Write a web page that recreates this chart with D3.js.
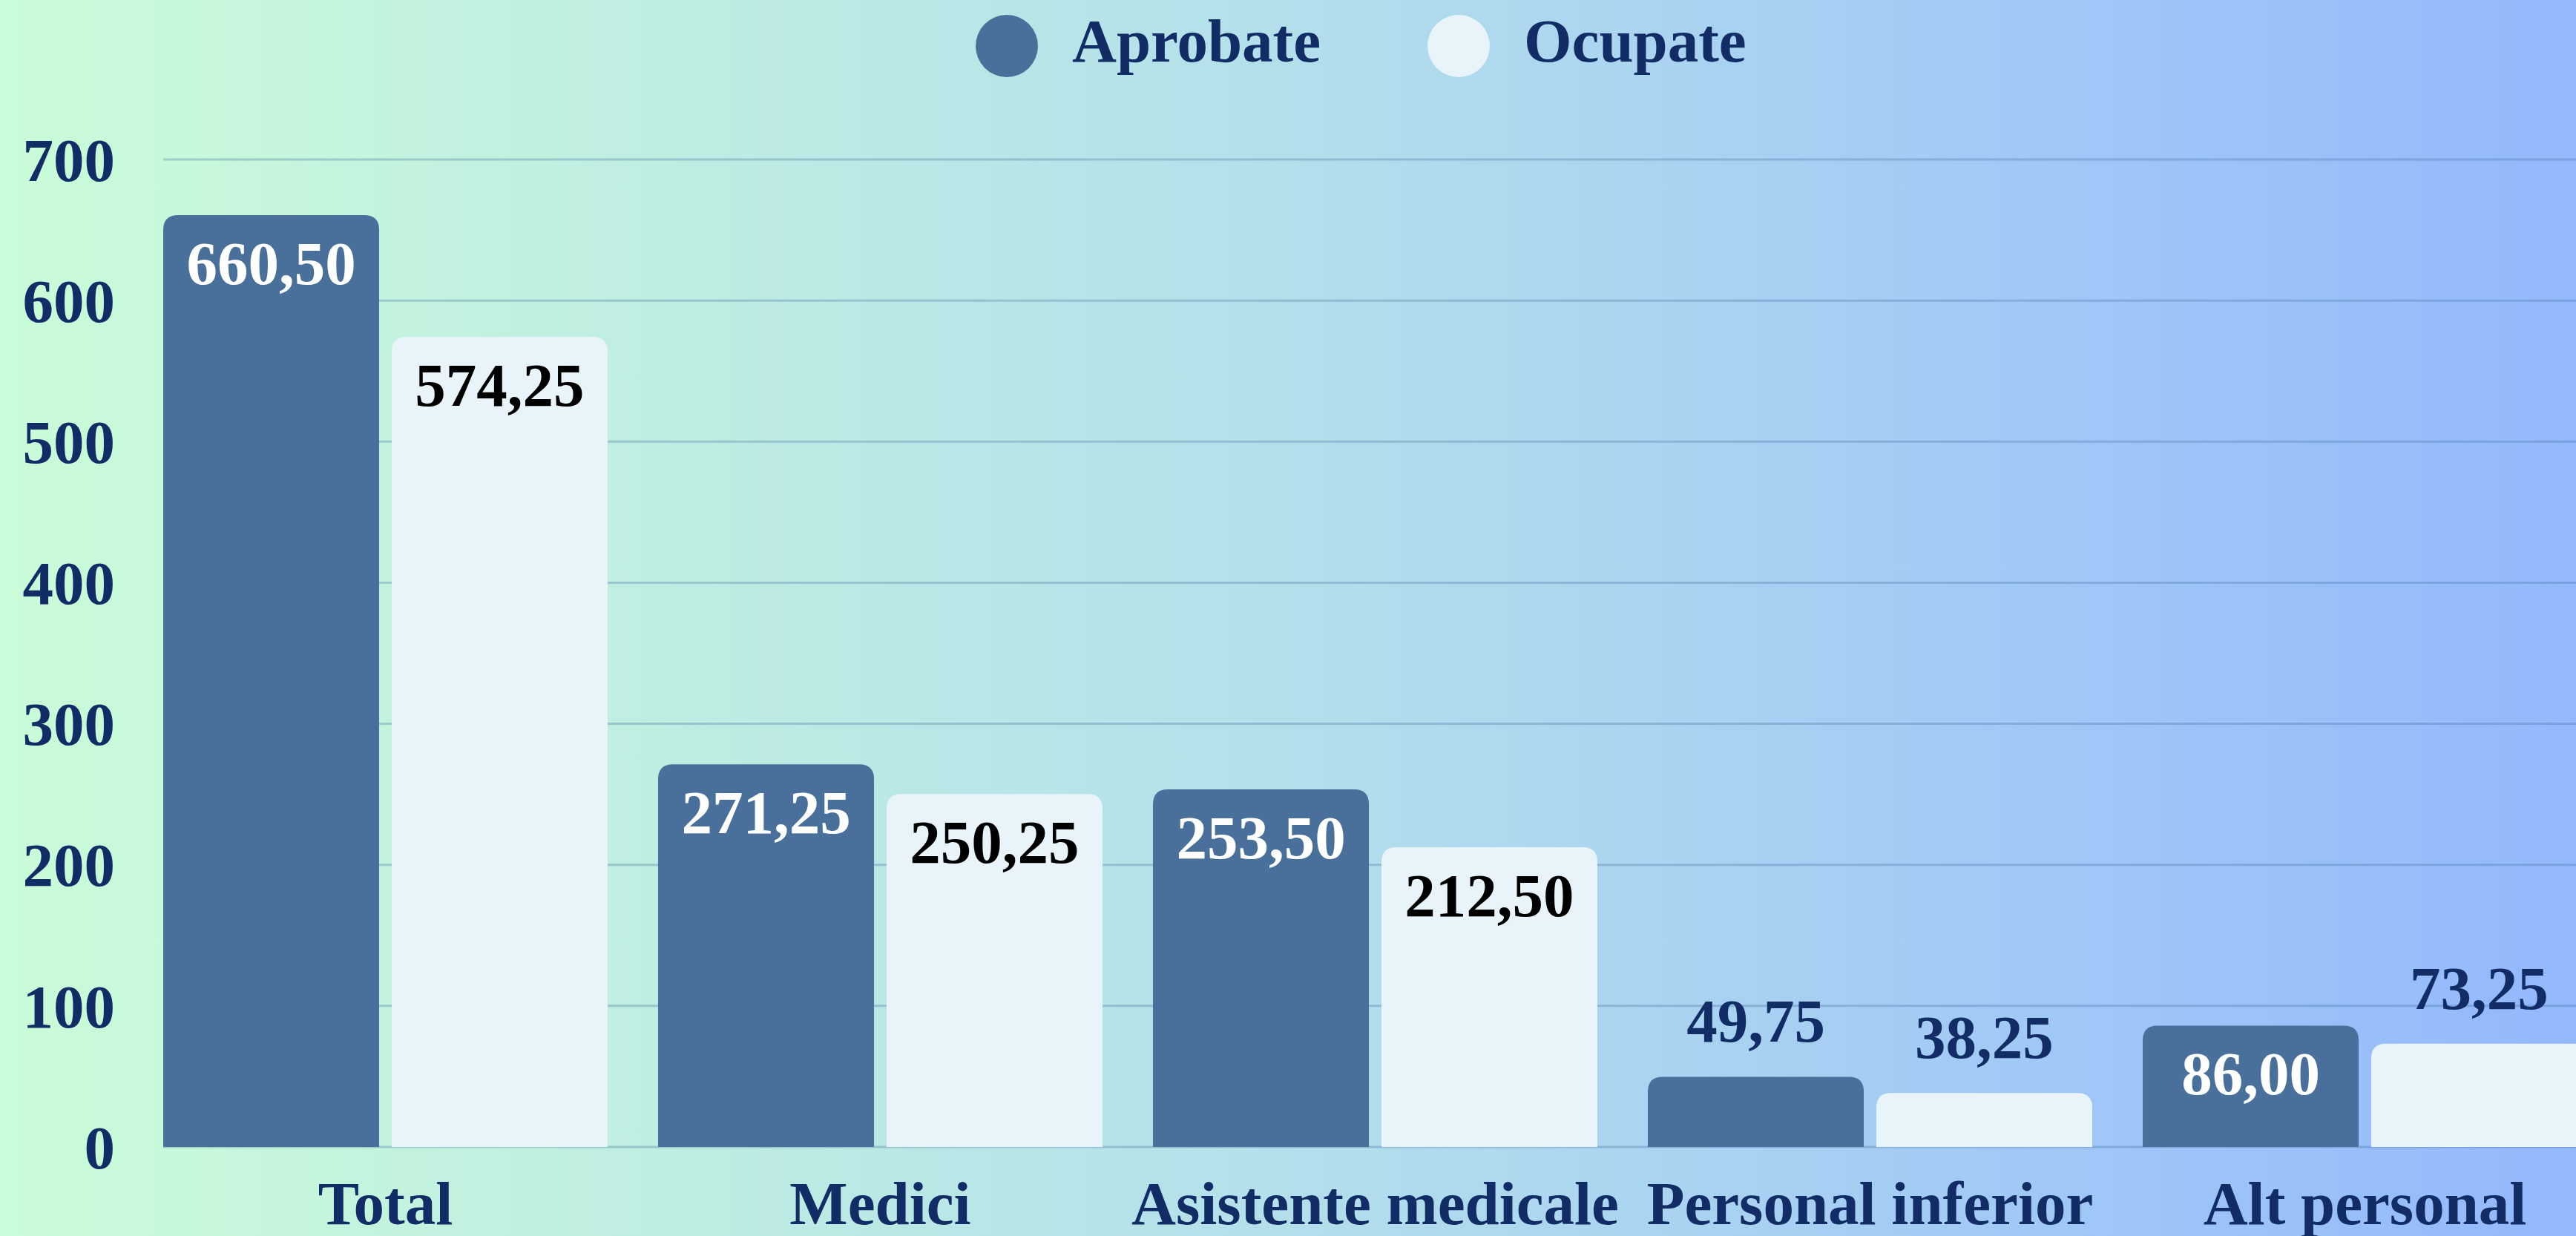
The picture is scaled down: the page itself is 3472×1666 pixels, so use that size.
<!DOCTYPE html>
<html>
<head>
<meta charset="utf-8">
<script src="https://cdn.jsdelivr.net/npm/d3@7"></script>
<style>
  body { margin: 0; overflow: hidden; }
  svg { display: block; }
</style>
</head>
<body>
<svg class="chart" width="3472" height="1666"></svg>
<script>
// Posturi aprobate vs ocupate

var categories = ["Total", "Medici", "Asistente medicale", "Personal inferior", "Alt personal"];
var seriesNames = ["Aprobate", "Ocupate"];
var aprobate = [660.50, 271.25, 253.50, 49.75, 86.00];
var ocupate = [574.25, 250.25, 212.50, 38.25, 73.25];
var yTicks = [0, 100, 200, 300, 400, 500, 600, 700];

var W = 3472, H = 1666;
var navy = "#122D66";
var barColors = ["#48709A", "#E8F3FA"];
var insideText = ["#FFFFFF", "#000000"];
var fontFam = "'Liberation Serif', 'Times New Roman', serif";

var svg = d3.select(".chart");

// fundal
var defs = svg.append("defs");
var grad = defs.append("linearGradient")
    .attr("id", "bg")
    .attr("x1", "0%").attr("y1", "0%")
    .attr("x2", "100%").attr("y2", "0%");
grad.append("stop").attr("offset", "0%").attr("stop-color", "#C9FCD8");
grad.append("stop").attr("offset", "50%").attr("stop-color", "#B3DFEB");
grad.append("stop").attr("offset", "100%").attr("stop-color", "#93B8FD");

svg.append("rect")
    .attr("width", W)
    .attr("height", H)
    .attr("fill", "url(#bg)");

var rows = categories.map(function (c, i) {
    return { cat: c, values: [aprobate[i], ocupate[i]] };
});

var x0 = d3.scaleBand()
    .domain(categories)
    .range([220, 3487])
    .paddingInner(0.102)
    .paddingOuter(0);

var x1 = d3.scaleBand()
    .domain(seriesNames)
    .range([0, x0.bandwidth()])
    .paddingInner(0.055);

var y = d3.scaleLinear()
    .domain([0, 700])
    .range([1546, 215]);

// grila
svg.append("g")
    .selectAll("line")
    .data(yTicks).enter()
    .append("line")
    .attr("x1", 220)
    .attr("x2", W)
    .attr("y1", function (d) { return y(d); })
    .attr("y2", function (d) { return y(d); })
    .attr("stroke", "#3F6E9A")
    .attr("stroke-opacity", 0.3)
    .attr("stroke-width", 3);

// axa Y
var yAxis = svg.append("g")
    .attr("transform", "translate(155,0)")
    .call(d3.axisLeft(y).tickValues(yTicks).tickSize(0).tickPadding(0));
yAxis.select(".domain").remove();
yAxis.selectAll("text")
    .attr("font-family", fontFam)
    .attr("font-weight", "bold")
    .attr("font-size", "83px")
    .attr("fill", navy)
    .attr("dy", "0.34em");

// axa X
var xAxis = svg.append("g")
    .attr("transform", "translate(0,1650)")
    .call(d3.axisBottom(x0).tickSize(0).tickPadding(0));
xAxis.select(".domain").remove();
xAxis.selectAll("text")
    .attr("font-family", fontFam)
    .attr("font-weight", "bold")
    .attr("font-size", "83px")
    .attr("fill", navy)
    .attr("dy", "0");

// bare cu colturi rotunjite sus
function topRounded(x, yTop, w, h, r) {
    r = Math.min(r, h, w / 2);
    return "M" + x + "," + (yTop + h) +
        "V" + (yTop + r) +
        "Q" + x + "," + yTop + " " + (x + r) + "," + yTop +
        "H" + (x + w - r) +
        "Q" + (x + w) + "," + yTop + " " + (x + w) + "," + (yTop + r) +
        "V" + (yTop + h) + "Z";
}

var groups = svg.selectAll(".grp")
    .data(rows).enter()
    .append("g")
    .attr("class", "grp")
    .attr("transform", function (d) { return "translate(" + x0(d.cat) + ",0)"; });

var cells = groups.selectAll(".bar")
    .data(function (d) {
        return d.values.map(function (v, i) { return { s: seriesNames[i], i: i, v: v }; });
    }).enter();

cells.append("path")
    .attr("class", "bar")
    .attr("d", function (d) {
        return topRounded(x1(d.s), y(d.v), x1.bandwidth(), y(0) - y(d.v), 20);
    })
    .attr("fill", function (d) { return barColors[d.i]; });

cells.append("text")
    .attr("x", function (d) { return x1(d.s) + x1.bandwidth() / 2; })
    .attr("y", function (d) {
        var h = y(0) - y(d.v);
        return h > 150 ? y(d.v) + 93 : y(d.v) - 47;
    })
    .attr("text-anchor", "middle")
    .attr("font-family", fontFam)
    .attr("font-weight", "bold")
    .attr("font-size", "83px")
    .attr("fill", function (d) {
        var h = y(0) - y(d.v);
        return h > 150 ? insideText[d.i] : navy;
    })
    .text(function (d) { return d.v.toFixed(2).replace(".", ","); });

// legenda
var legendX = [1357, 1966];
var legend = svg.append("g");
legend.selectAll("circle")
    .data(seriesNames).enter()
    .append("circle")
    .attr("cx", function (d, i) { return legendX[i]; })
    .attr("cy", 62)
    .attr("r", 42)
    .attr("fill", function (d, i) { return barColors[i]; });
legend.selectAll("text")
    .data(seriesNames).enter()
    .append("text")
    .attr("x", function (d, i) { return legendX[i] + 88; })
    .attr("y", 83)
    .attr("font-family", fontFam)
    .attr("font-weight", "bold")
    .attr("font-size", "83px")
    .attr("fill", navy)
    .text(function (d) { return d; });
</script>
</body>
</html>
